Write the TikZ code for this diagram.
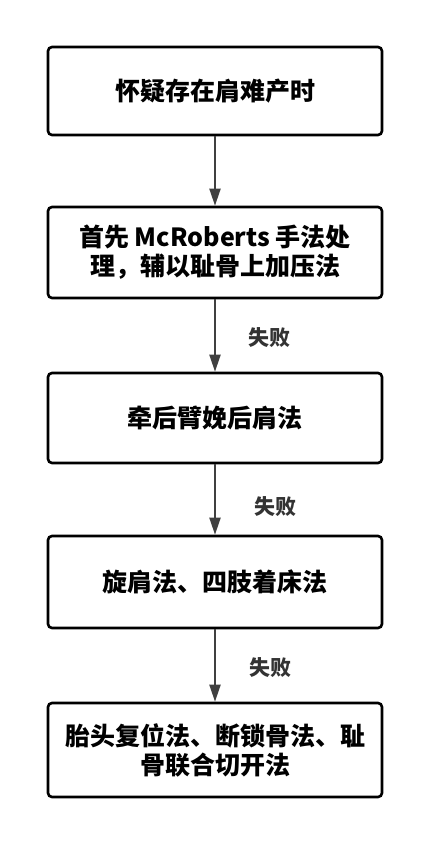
\documentclass[tikz,border=0pt]{standalone}
\usepackage{fontspec}
\setmainfont{Noto Sans CJK SC}
\usetikzlibrary{arrows.meta}

\begin{document}
\begin{tikzpicture}[%
            x=1pt, y=-1pt,
            stepbox/.style={draw=black, line width=2.6pt, rounded corners=4pt,
                minimum width=334pt, align=center, inner sep=0pt,
                font=\fontsize{25}{29}\selectfont\bfseries},
            myarrow/.style={draw=black!75, line width=2pt,
                -{Triangle[length=17pt,width=11pt]}},
            failtext/.style={text=black!80, font=\fontsize{21}{24}\selectfont\bfseries}
    ]
        \useasboundingbox (0,0) rectangle (443,859);

        \node [stepbox, minimum height=88pt] (suspect) at (215,91) {怀疑存在肩难产时};
        \node [stepbox, minimum height=91pt] (mcrob) at (215,252.5)
            {首先 McRoberts 手法处\\理，辅以耻骨上加压法};
        \node [stepbox, minimum height=90pt] (posterior) at (215,418) {牵后臂娩后肩法};
        \node [stepbox, minimum height=92pt] (rotate) at (215,582) {旋肩法、四肢着床法};
        \node [stepbox, minimum height=94pt] (rescue) at (215,750)
            {胎头复位法、断锁骨法、耻\\骨联合切开法};

        \draw [myarrow] (suspect) -- (mcrob);
        \draw [myarrow] (mcrob) -- (posterior);
        \draw [myarrow] (posterior) -- (rotate);
        \draw [myarrow] (rotate) -- (rescue);

        \path (269,338) node [failtext] (fail1) {失败};
        \path (275,507) node [failtext] (fail2) {失败};
        \path (270,668) node [failtext] (fail3) {失败};
    \end{tikzpicture}
\end{document}
